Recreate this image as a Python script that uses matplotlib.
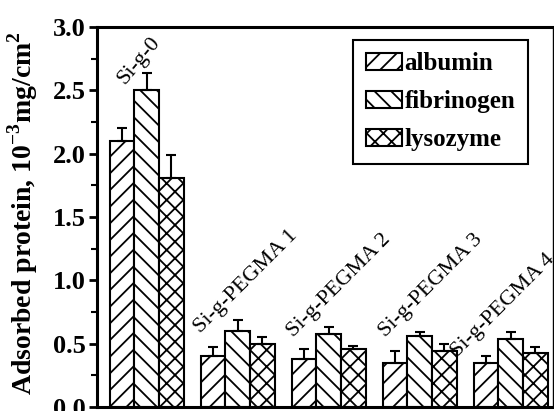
import numpy as np
import matplotlib
matplotlib.use("Agg")
import matplotlib.pyplot as plt
from matplotlib.ticker import MultipleLocator

plt.rcParams['font.family'] = ['Liberation Serif', 'DejaVu Serif']
plt.rcParams['hatch.linewidth'] = 1.3
plt.rcParams['mathtext.fontset'] = 'custom'
plt.rcParams['mathtext.rm'] = 'Liberation Serif:bold'

# adsorbed amount per surface (10^-3 mg/cm^2)
surfaces = ['Si-g-0', 'Si-g-PEGMA 1', 'Si-g-PEGMA 2', 'Si-g-PEGMA 3', 'Si-g-PEGMA 4']
proteins = ['albumin', 'fibrinogen', 'lysozyme']
albumin = [2.10, 0.40, 0.38, 0.35, 0.35]
fibrinogen = [2.50, 0.60, 0.58, 0.56, 0.54]
lysozyme = [1.81, 0.50, 0.46, 0.44, 0.43]
albumin_err = [0.10, 0.07, 0.08, 0.09, 0.05]
fibrinogen_err = [0.14, 0.09, 0.05, 0.03, 0.05]
lysozyme_err = [0.18, 0.05, 0.02, 0.06, 0.04]

values = [albumin, fibrinogen, lysozyme]
errors = [albumin_err, fibrinogen_err, lysozyme_err]
hatches = ['//', '\\\\', 'xx']

fig = plt.figure(figsize=(5.54, 4.11), dpi=100)
ax = fig.add_axes([0.175, 0.0097, 0.823, 0.9246])

x = np.arange(len(surfaces))
w = 0.27
for i, (vals, errs) in enumerate(zip(values, errors)):
    pos = x + (i - 1) * w
    ax.bar(pos, vals, w, color='white', edgecolor='black', linewidth=1.5,
           hatch=hatches[i], label=proteins[i], zorder=2)
    ax.errorbar(pos, vals, yerr=[np.zeros(len(errs)), errs], fmt='none',
                ecolor='black', elinewidth=1.5, capsize=3.5, capthick=1.5,
                zorder=3)

# group names written diagonally above each cluster
label_dx = [-0.24, -0.41, -0.39, -0.38, -0.58]
label_y = [2.54, 0.58, 0.55, 0.55, 0.39]
label_rot = [50, 45, 45, 45, 45]
for xi, name, dx, ly, rot in zip(x, surfaces, label_dx, label_y, label_rot):
    ax.text(xi + dx, ly, name, rotation=rot, rotation_mode='anchor',
            ha='left', va='baseline', fontsize=16)

ax.set_xlim(-0.547, 4.464)
ax.set_ylim(0, 3.0)
ax.yaxis.set_minor_locator(MultipleLocator(0.25))
ax.set_yticks(np.arange(0, 3.01, 0.5))
ax.set_yticklabels([f'{v:.1f}' for v in np.arange(0, 3.01, 0.5)],
                   fontsize=19, fontweight='bold')
ax.tick_params(axis='y', which='major', direction='out', length=6, width=2,
               pad=2)
ax.tick_params(axis='y', which='minor', direction='out', length=4, width=1.5)
ax.set_xticks([])

for side in ['left', 'bottom', 'top']:
    ax.spines[side].set_linewidth(2.2)
ax.spines['right'].set_linewidth(1)

ax.set_ylabel(r'Adsorbed protein, 10$^{-3}$mg/cm$^2$', fontsize=20,
              fontweight='bold')
ax.yaxis.set_label_coords(-0.125, 0.51)

leg = ax.legend(loc='upper right', bbox_to_anchor=(0.945, 0.966),
                prop={'size': 18, 'weight': 'bold'}, fancybox=False,
                edgecolor='black', framealpha=1, handlelength=1.45,
                handleheight=0.65, handletextpad=0.1, labelspacing=0.6,
                borderpad=0.5, borderaxespad=0)
leg.get_frame().set_linewidth(1.5)

fig.savefig('out.png', dpi=100)
